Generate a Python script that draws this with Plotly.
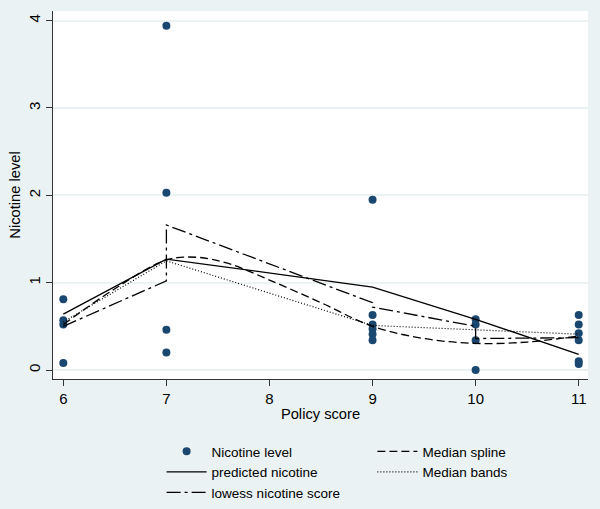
import plotly.graph_objects as go

# Observed nicotine levels by policy score
score_x = [6, 6, 6, 6,
           7, 7, 7, 7,
           9, 9, 9, 9, 9, 9,
           10, 10, 10, 10,
           11, 11, 11, 11, 11, 11]
nicotine_y = [0.81, 0.57, 0.52, 0.08,
              3.94, 2.03, 0.46, 0.20,
              1.95, 0.63, 0.52, 0.47, 0.41, 0.34,
              0.58, 0.52, 0.34, 0.00,
              0.63, 0.52, 0.42, 0.34, 0.10, 0.07]

# Predicted nicotine (fitted values)
pred_x = [6, 7, 9, 10, 11]
pred_y = [0.64, 1.27, 0.95, 0.58, 0.18]

# Lowess nicotine score
lowess_x = [6, 7, 7, 9, 9, 10, 10, 11]
lowess_y = [0.50, 1.02, 1.66, 0.77, 0.72, 0.50, 0.36, 0.37]

# Median spline
mspline_x = [6, 6.5, 7, 7.3, 7.6, 8, 8.5, 9, 9.5, 10, 10.5, 11]
mspline_y = [0.52, 0.93, 1.26, 1.29, 1.22, 1.03, 0.77, 0.50, 0.36, 0.305, 0.32, 0.39]

# Median bands
mband_x = [6, 7, 9, 10, 11]
mband_y = [0.55, 1.25, 0.51, 0.46, 0.41]

x_ticks = [6, 7, 8, 9, 10, 11]
y_ticks = [0, 1, 2, 3, 4]

BG = "#EAF2F3"
NAVY = "#1A476F"
FONT = "Liberation Sans, Arial, sans-serif"

fig = go.Figure()

fig.add_trace(go.Scatter(
    x=score_x, y=nicotine_y, mode="markers", name="Nicotine level",
    marker=dict(color=NAVY, size=8), legend="legend", legendrank=1))
fig.add_trace(go.Scatter(
    x=pred_x, y=pred_y, mode="lines", name="predicted nicotine",
    line=dict(color="black", width=1.3), legend="legend", legendrank=2))
fig.add_trace(go.Scatter(
    x=lowess_x, y=lowess_y, mode="lines", name="lowess nicotine score",
    line=dict(color="black", width=1.3, dash="14px,4px,3px,4px"),
    legend="legend", legendrank=3))
fig.add_trace(go.Scatter(
    x=mspline_x, y=mspline_y, mode="lines", name="Median spline",
    line=dict(color="black", width=1.3, dash="8px,4px", shape="spline", smoothing=1.0),
    legend="legend2", legendrank=1))
fig.add_trace(go.Scatter(
    x=mband_x, y=mband_y, mode="lines", name="Median bands",
    line=dict(color="black", width=1.2, dash="1px,2px"),
    legend="legend2", legendrank=2))

legend_common = dict(
    orientation="v", xanchor="left", yanchor="top",
    bgcolor="rgba(0,0,0,0)", font=dict(family=FONT, size=13.5, color="black"),
    tracegroupgap=0, itemwidth=40,
)

fig.update_layout(
    width=600, height=509,
    margin=dict(l=53, r=12, t=11, b=130, autoexpand=False),
    paper_bgcolor=BG, plot_bgcolor="white",
    font=dict(family=FONT, color="black"),
    legend=dict(x=0.203, y=-0.155, **legend_common),
    legend2=dict(x=0.597, y=-0.155, **legend_common),
    xaxis=dict(
        range=[5.9, 11.09], tickvals=x_ticks, ticktext=[str(v) for v in x_ticks],
        ticks="outside", ticklen=6, tickcolor="#333333",
        showline=True, linecolor="#333333", linewidth=1,
        showgrid=False, zeroline=False, automargin=False,
        tickfont=dict(size=15),
        title=dict(text="Policy score", font=dict(size=14.7), standoff=2),
    ),
    yaxis=dict(
        range=[-0.103, 4.11], tickvals=y_ticks, ticktext=[str(v) for v in y_ticks],
        tickangle=-90,
        ticks="outside", ticklen=6, tickcolor="#333333",
        showline=True, linecolor="#333333", linewidth=1,
        showgrid=True, gridcolor=BG, gridwidth=1.5, zeroline=False, automargin=False,
        tickfont=dict(size=15),
        title=dict(text="Nicotine level", font=dict(size=14.7), standoff=1),
    ),
)

fig.write_html("out.html", config={"displayModeBar": False},
               post_script="document.body.style.margin='0';")
